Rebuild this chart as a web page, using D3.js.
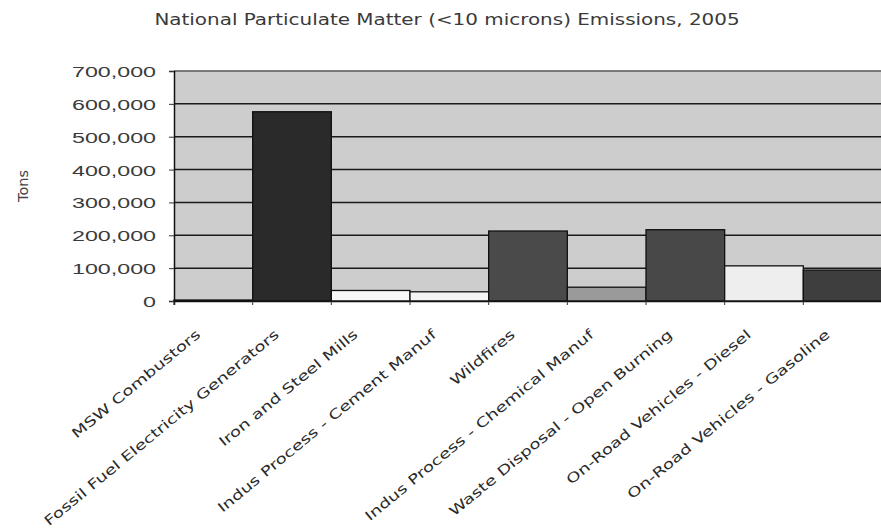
<!DOCTYPE html>
<html>
<head>
<meta charset="utf-8">
<script src="https://cdn.jsdelivr.net/npm/d3@7"></script>
<style>
  html, body { margin: 0; padding: 0; background: #fff; }
  svg { display: block; font-family: "DejaVu Sans", Verdana, sans-serif; }
</style>
</head>
<body>
<svg id="chart" width="881" height="530"></svg>
<script>
// PM10 emissions by source category, 2005 (tons)
const categories = [
  "MSW Combustors",
  "Fossil Fuel Electricity Generators",
  "Iron and Steel Mills",
  "Indus Process - Cement Manuf",
  "Wildfires",
  "Indus Process - Chemical Manuf",
  "Waste Disposal - Open Burning",
  "On-Road Vehicles - Diesel",
  "On-Road Vehicles - Gasoline"
];
const tons = [3000, 576000, 32000, 28000, 213000, 42000, 217000, 107000, 94000];
const barFills = ["#d0d0d0", "#2a2a2a", "#f7f7f7", "#f4f4f4", "#4a4a4a", "#9a9a9a", "#484848", "#eeeeee", "#3e3e3e"];
const yTicks = [0, 100000, 200000, 300000, 400000, 500000, 600000, 700000];
const titleText = "National Particulate Matter (<10 microns) Emissions, 2005";
const yAxisLabel = "Tons";

const svg = d3.select("#chart");
const plot = { left: 174, right: 882, top: 71, bottom: 301 };

const x = d3.scaleBand().domain(categories).range([plot.left, plot.right]).padding(0);
const y = d3.scaleLinear().domain([0, 700000]).range([plot.bottom, plot.top]);
const fmt = d3.format(",");

// plot background
svg.append("rect")
  .attr("x", plot.left).attr("y", plot.top)
  .attr("width", plot.right - plot.left).attr("height", plot.bottom - plot.top)
  .attr("fill", "#cdcdcd");

// horizontal gridlines
svg.append("g")
  .selectAll("line")
  .data(yTicks.filter(d => d > 0))
  .join("line")
  .attr("x1", plot.left).attr("x2", plot.right)
  .attr("y1", d => y(d)).attr("y2", d => y(d))
  .attr("stroke", d => d === 700000 ? "#555" : "#1a1a1a")
  .attr("stroke-width", 1.5);

// bars
svg.append("g")
  .selectAll("rect")
  .data(categories)
  .join("rect")
  .attr("x", d => x(d))
  .attr("y", (d, i) => y(tons[i]))
  .attr("width", x.bandwidth())
  .attr("height", (d, i) => y(0) - y(tons[i]))
  .attr("fill", (d, i) => barFills[i])
  .attr("stroke", "#111")
  .attr("stroke-width", 1.3);

// y axis
const yAxis = svg.append("g")
  .attr("transform", `translate(${plot.left},0)`)
  .call(d3.axisLeft(y).tickValues(yTicks).tickFormat(fmt).tickSize(5).tickPadding(0));
yAxis.select(".domain").attr("stroke", "#111").attr("stroke-width", 1.5);
yAxis.selectAll(".tick line").attr("stroke", "#333");
yAxis.selectAll(".tick text")
  .attr("x", null).attr("dy", null)
  .attr("font-size", 15.5)
  .attr("fill", "#3a3a3a")
  .attr("text-anchor", "end")
  .attr("dominant-baseline", "central")
  .attr("transform", "translate(-18,0) scale(1.5,1)");

// x axis
const xAxis = svg.append("g")
  .attr("transform", `translate(0,${plot.bottom})`)
  .call(d3.axisBottom(x).tickSize(4).tickFormat(""));
xAxis.select(".domain").attr("stroke", "#111").attr("stroke-width", 1.5);
xAxis.selectAll(".tick line")
  .attr("stroke", "#333")
  .attr("transform", `translate(${-x.bandwidth() / 2},0)`);

// rotated category labels
svg.append("g")
  .selectAll("text")
  .data(categories)
  .join("text")
  .attr("transform", d => `translate(${x(d) + x.bandwidth() / 2 - 12},336) rotate(-39.5) scale(1.36,1)`)
  .attr("text-anchor", "end")
  .attr("font-size", 13.5)
  .attr("fill", "#2a2a2a")
  .text(d => d);

// title
svg.append("text")
  .attr("transform", "translate(447,25) scale(1.33,1)")
  .attr("text-anchor", "middle")
  .attr("font-size", 15)
  .attr("fill", "#3a3a3a")
  .text(titleText);

// y axis title
svg.append("text")
  .attr("transform", "translate(28,186) rotate(-90)")
  .attr("text-anchor", "middle")
  .attr("font-size", 14.5)
  .attr("fill", "#444")
  .text(yAxisLabel);
</script>
</body>
</html>
